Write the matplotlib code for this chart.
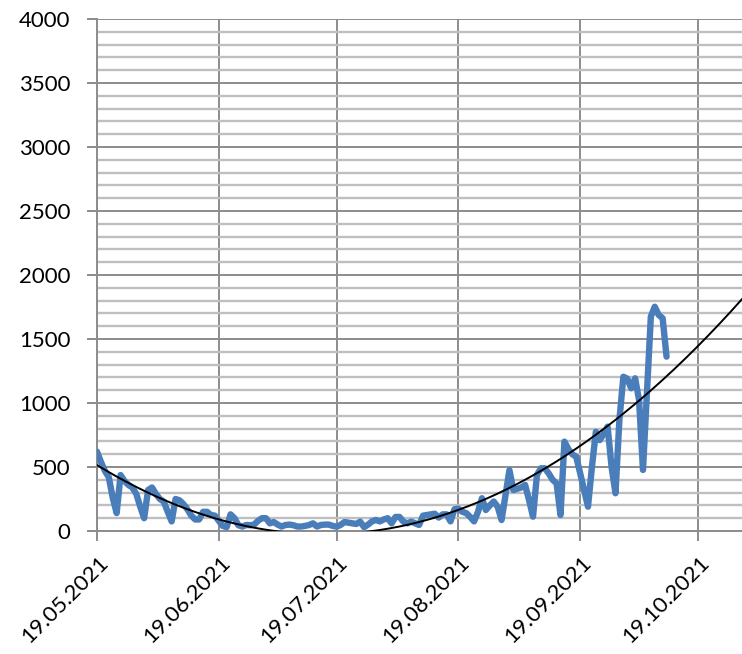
import matplotlib
matplotlib.use('Agg')
import matplotlib.pyplot as plt
import matplotlib.dates as mdates
import matplotlib.transforms as mtransforms
from matplotlib.ticker import MultipleLocator
import numpy as np
import pandas as pd

# daily values starting 19.05.2021
start = '2021-05-19'
cases = [
    620, 540, 470, 420, 260, 140, 437, 390, 360, 340,
    290, 190, 100, 320, 340, 290, 250, 230, 150, 75,
    250, 240, 210, 170, 120, 90, 90, 150, 150, 125,
    120, 80, 40, 30, 130, 100, 45, 35, 47, 45,
    50, 80, 100, 100, 60, 70, 50, 35, 47, 50,
    45, 35, 35, 40, 47, 60, 35, 47, 50, 50,
    40, 34, 47, 70, 65, 60, 55, 73, 30, 50,
    75, 86, 75, 90, 100, 60, 110, 110, 73, 60,
    73, 60, 47, 120, 125, 130, 135, 105, 130, 130,
    75, 170, 175, 150, 140, 110, 75, 150, 256, 164,
    200, 230, 190, 86, 280, 475, 320, 330, 340, 360,
    240, 112, 437, 490, 490, 450, 400, 372, 125, 698,
    640, 600, 580, 452, 320, 190, 500, 775, 710, 760,
    815, 500, 295, 870, 1205, 1190, 1115, 1193, 1023, 477,
    1080, 1675, 1752, 1688, 1662, 1362,
]
tick_dates = ['2021-05-19', '2021-06-19', '2021-07-19',
              '2021-08-19', '2021-09-19', '2021-10-19']
axis_end = '2021-10-30 05:00'

plt.rcParams['font.family'] = ['Lato', 'DejaVu Sans']

t0 = pd.Timestamp(start)
dates = pd.date_range(start, periods=len(cases), freq='D')
days = np.arange(len(cases))

# 2nd order polynomial trend, extended to the end of the axis
coef = np.polyfit(days, cases, 2)
end_day = (pd.Timestamp(axis_end) - t0) / pd.Timedelta(days=1)
trend_days = np.linspace(0, end_day + 1, 400)
trend_dates = t0 + pd.to_timedelta(trend_days, unit='D')
trend_vals = np.polyval(coef, trend_days)

fig = plt.figure(figsize=(7.42, 6.54), dpi=100)
ax = fig.add_axes([97 / 742, 123 / 654, 645 / 742, 512 / 654])

ax.plot(dates, cases, color='#4a7ebb', lw=4.6, solid_joinstyle='round',
        solid_capstyle='round', zorder=3)
ax.plot(trend_dates, trend_vals, color='black', lw=1.4, zorder=4)

ax.set_xlim(t0, pd.Timestamp(axis_end))
ax.set_ylim(0, 4000)

ax.yaxis.set_major_locator(MultipleLocator(500))
ax.yaxis.set_minor_locator(MultipleLocator(100))
ax.set_xticks(pd.to_datetime(tick_dates))
ax.xaxis.set_major_formatter(mdates.DateFormatter('%d.%m.%Y'))

ax.grid(which='major', axis='both', color='#8c8c8c', lw=1.4, zorder=1)
ax.grid(which='minor', axis='y', color='#bfbfbf', lw=1.7, zorder=0)
ax.set_axisbelow(True)

for s in ['top', 'right']:
    ax.spines[s].set_visible(False)
for s in ['left', 'bottom']:
    ax.spines[s].set_color('#8c8c8c')
    ax.spines[s].set_linewidth(1.4)

ax.tick_params(which='major', length=7.2, width=1.4, color='#8c8c8c',
               labelsize=16, pad=12)
ax.tick_params(which='minor', length=0)
ax.tick_params(axis='x', pad=8)
shift = mtransforms.ScaledTranslation(1 / 100, 0, fig.dpi_scale_trans)
for lbl in ax.get_xticklabels():
    lbl.set_rotation(45)
    lbl.set_ha('right')
    lbl.set_rotation_mode('anchor')
    lbl.set_transform(lbl.get_transform() + shift)

fig.savefig('out.png', dpi=100)
